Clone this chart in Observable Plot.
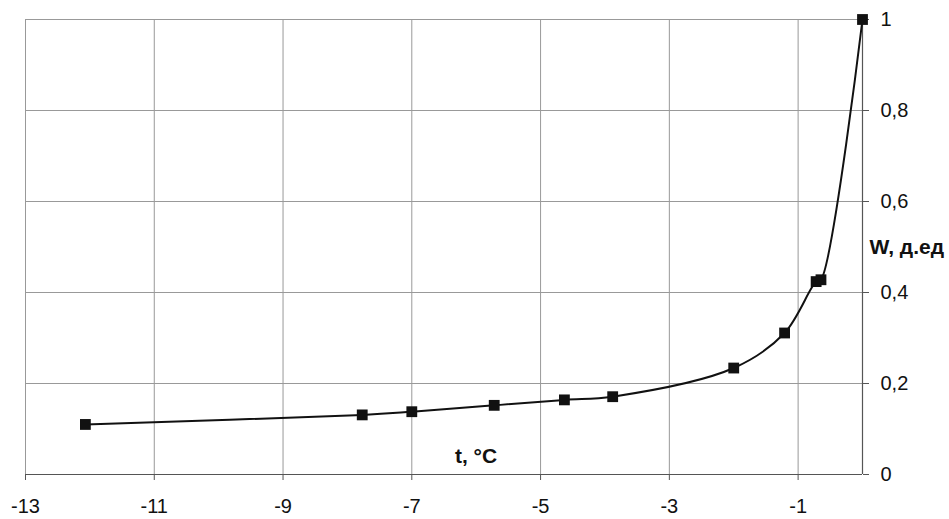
<!DOCTYPE html>
<html>
<head>
<meta charset="utf-8">
<script src="https://cdn.jsdelivr.net/npm/d3@7"></script>
<script src="https://cdn.jsdelivr.net/npm/@observablehq/plot@0.6"></script>
<style>
  html, body { margin: 0; padding: 0; background: #fff; }
</style>
</head>
<body>
<div id="chart"></div>
<script>
const tValues = [-12.07, -7.77, -7.0, -5.72, -4.63, -3.88, -2.0, -1.21, -0.72, -0.645, 0];
const wValues = [0.110, 0.131, 0.138, 0.152, 0.164, 0.171, 0.234, 0.311, 0.424, 0.428, 1.0];
const xTicks = [-13, -11, -9, -7, -5, -3, -1];
const yTicks = [0, 0.2, 0.4, 0.6, 0.8, 1];
const xTitle = "t, °C";
const yTitle = "W, д.ед";

const data = tValues.map((t, i) => ({t, w: wValues[i]}));

const chart = Plot.plot({
  width: 949,
  height: 519,
  marginLeft: 25,
  marginRight: 87,
  marginTop: 19,
  marginBottom: 45,
  style: {fontFamily: "'Liberation Sans', Arial, sans-serif", fontSize: "20px", color: "#111", background: "#fff"},
  x: {domain: [-13, 0]},
  y: {domain: [0, 1]},
  marks: [
    Plot.gridX(xTicks, {stroke: "#999", strokeOpacity: 1}),
    Plot.gridY(yTicks, {stroke: "#999", strokeOpacity: 1}),
    Plot.ruleY([0], {stroke: "#555", strokeWidth: 1.2}),
    Plot.ruleX([0], {stroke: "#555", strokeWidth: 1.2}),
    Plot.axisX(xTicks, {anchor: "bottom", tickSize: 6, tickPadding: 18, stroke: "#555", tickFormat: d => String(d), label: null}),
    Plot.axisY(yTicks, {anchor: "right", tickSize: 6, tickPadding: 12, stroke: "#555", tickFormat: d => String(d).replace(".", ","), label: null}),
    Plot.line(data, {x: "t", y: "w", curve: "catmull-rom", stroke: "#111", strokeWidth: 2}),
    Plot.dot(data, {x: "t", y: "w", symbol: "square", r: 6.1, fill: "#111", stroke: "none"}),
    Plot.text([xTitle], {frameAnchor: "bottom", text: d => d, dx: 32, dy: -12, fontWeight: "bold", fill: "#111", fontSize: 21}),
    Plot.text([yTitle], {frameAnchor: "right", text: d => d, dx: 7, dy: 0, textAnchor: "start", fontWeight: "bold", fill: "#111", fontSize: 21})
  ]
});
document.getElementById("chart").appendChild(chart);
</script>
</body>
</html>
